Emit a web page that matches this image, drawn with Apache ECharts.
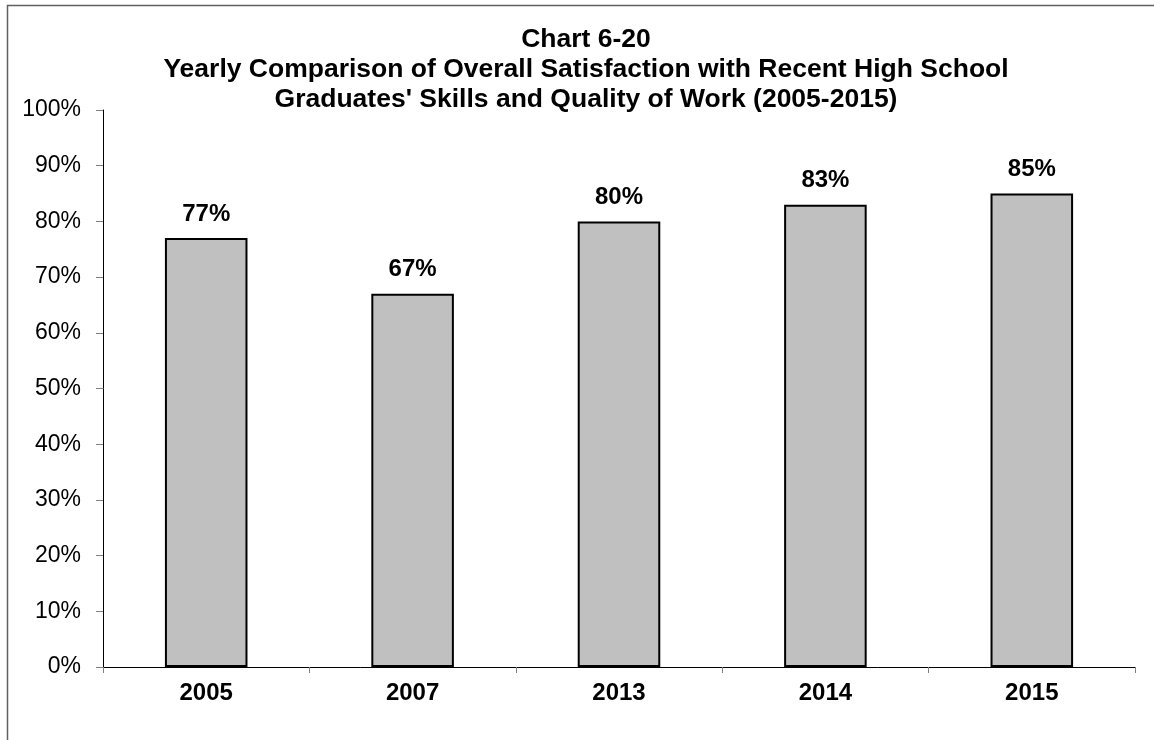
<!DOCTYPE html>
<html>
<head>
<meta charset="utf-8">
<style>
  html, body { margin: 0; padding: 0; background: #fff; }
  #chart { width: 1154px; height: 740px; }
</style>
<script src="https://cdn.jsdelivr.net/npm/echarts@6/dist/echarts.min.js"></script>
</head>
<body>
<div id="chart"></div>
<script>
// Survey years shown on the category axis
const years = ['2005', '2007', '2013', '2014', '2015'];
// Share of employers satisfied overall (percent)
const satisfaction = [77, 67, 80, 83, 85];
// Chart heading, one entry per line
const titleLines = [
  'Chart 6-20',
  'Yearly Comparison of Overall Satisfaction with Recent High School',
  "Graduates' Skills and Quality of Work (2005-2015)"
];

const FONT = 'Arial, "Liberation Sans", Helvetica, sans-serif';
const chart = echarts.init(document.getElementById('chart'));

chart.setOption({
  backgroundColor: '#fff',
  animation: false,
  graphic: [{
    type: 'rect',
    left: 5, top: 3,
    shape: { width: 1170, height: 760 },
    style: { fill: 'none', stroke: '#606060', lineWidth: 1.5 },
    silent: true
  }],
  title: {
    text: titleLines.join('\n'),
    left: 581,
    top: 20,
    textAlign: 'center',
    textStyle: {
      fontFamily: FONT, fontSize: 26.5, fontWeight: 'bold',
      color: '#000', lineHeight: 30
    }
  },
  grid: { left: 103, right: 19, top: 110, bottom: 73, containLabel: false },
  xAxis: {
    type: 'category',
    data: years,
    axisLine: { lineStyle: { color: '#000', width: 1 } },
    axisTick: { show: true, length: 6, lineStyle: { color: '#808080' } },
    axisLabel: {
      fontFamily: FONT, fontSize: 24, fontWeight: 'bold',
      color: '#000', margin: 14
    }
  },
  yAxis: {
    type: 'value',
    min: 0, max: 100, interval: 10,
    axisLine: { show: true, lineStyle: { color: '#000', width: 1 } },
    axisTick: { show: true, length: 7, lineStyle: { color: '#808080' } },
    splitLine: { show: false },
    axisLabel: {
      formatter: '{value}%',
      fontFamily: FONT, fontSize: 23, color: '#000', margin: 22
    }
  },
  series: [{
    type: 'bar',
    data: satisfaction,
    barWidth: '40%',
    itemStyle: { color: '#c0c0c0', borderColor: '#000', borderWidth: 2 },
    label: {
      show: true,
      position: 'top',
      distance: 12,
      formatter: '{c}%',
      fontFamily: FONT, fontSize: 24, fontWeight: 'bold', color: '#000'
    }
  }]
});
</script>
</body>
</html>
